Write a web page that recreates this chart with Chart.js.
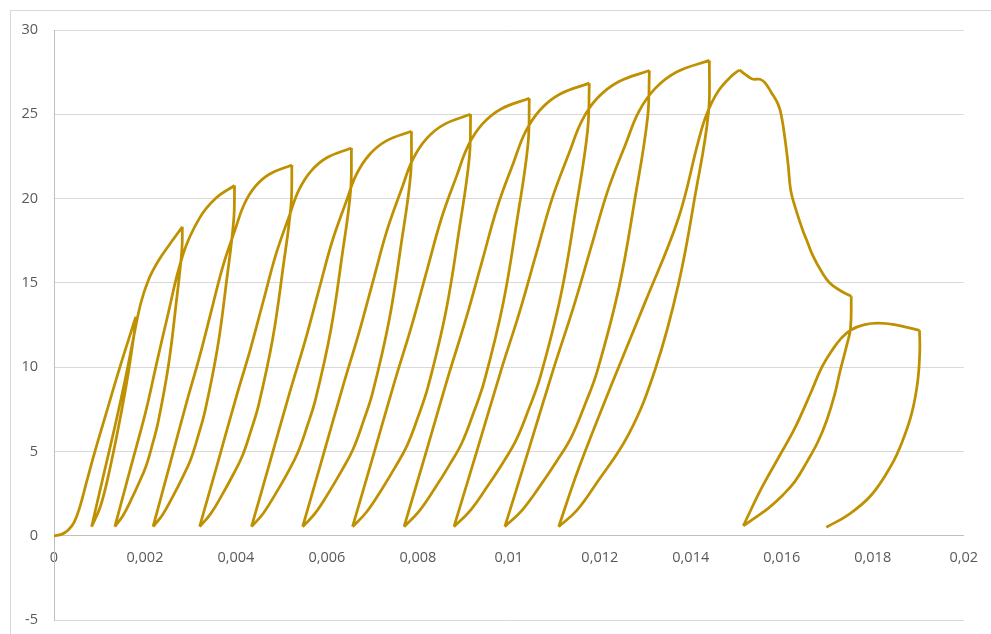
<!DOCTYPE html>
<html>
<head>
<meta charset="utf-8">
<script src="https://cdn.jsdelivr.net/npm/chart.js@4.4.1/dist/chart.umd.min.js"></script>
<style>
  html, body { margin: 0; padding: 0; background: #fff; overflow: hidden; }
  #wrap { position: relative; width: 991px; height: 634px; overflow: hidden; }
  #frame {
    position: absolute; left: 10px; top: 10px; width: 1200px; height: 900px;
    border: 1px solid #d9d9d9; pointer-events: none;
  }
</style>
</head>
<body>
<div id="wrap">
  <canvas id="loopChart" width="991" height="645"></canvas>
  <div id="frame"></div>
</div>
<script>
// === DATA (path in drawing order, null = sharp corner / break) ===
const strain = [
  // first loading
  0, 0.000175, 0.000307, 0.000439, 0.00057, 0.000724, 0.000899, 0.001173, 0.001447, 0.0018, null,
  // cycle 1
  0.0018, 0.00179, 0.001626, 0.001424, 0.001193, 0.00102, 0.000827, null,
  0.000827, 0.001086, 0.001349, 0.001579, 0.001754, 0.001908, 0.002083, 0.002303, 0.002544, 0.002822, null,
  // cycle 2
  0.002822, 0.00281, 0.002682, 0.002516, 0.00229, 0.002167, 0.002025, 0.001872, 0.001702, 0.001515, 0.001338, null,
  0.001338, 0.00168, 0.002022, 0.002245, 0.002471, 0.002836, 0.003202, 0.003568, 0.00397, null,
  // cycle 3
  0.00397, 0.00395, 0.003796, 0.003596, 0.003324, 0.003176, 0.003006, 0.002821, 0.002616, 0.002391, 0.002178, null,
  0.002178, 0.002544, 0.002907, 0.0032, 0.003466, 0.003713, 0.003979, 0.004177, 0.004421, 0.004742, 0.00523, null,
  // cycle 4
  0.00523, 0.00521, 0.005035, 0.004808, 0.004501, 0.004333, 0.00414, 0.003931, 0.003698, 0.003443, 0.003202, null,
  0.003202, 0.003603, 0.004, 0.00432, 0.004611, 0.004881, 0.005171, 0.005388, 0.005655, 0.006006, 0.00654, null,
  // cycle 5
  0.00654, 0.00652, 0.006331, 0.006084, 0.005751, 0.005568, 0.005359, 0.005133, 0.00488, 0.004603, 0.004342, null,
  0.004342, 0.004764, 0.005183, 0.005521, 0.005827, 0.006112, 0.006418, 0.006646, 0.006928, 0.007297, 0.00786, null,
  // cycle 6
  0.00786, 0.00784, 0.007634, 0.007365, 0.007002, 0.006803, 0.006575, 0.006328, 0.006053, 0.005752, 0.005467, null,
  0.005467, 0.00591, 0.00635, 0.006704, 0.007025, 0.007325, 0.007646, 0.007886, 0.008181, 0.008569, 0.00916, null,
  // cycle 7
  0.00916, 0.00913, 0.008907, 0.008617, 0.008224, 0.008009, 0.007762, 0.007495, 0.007198, 0.006872, 0.006564, null,
  0.006564, 0.00703, 0.007493, 0.007866, 0.008204, 0.008519, 0.008857, 0.009109, 0.00942, 0.009828, 0.01045, null,
  // cycle 8
  0.01045, 0.01042, 0.010183, 0.009875, 0.009459, 0.00923, 0.008969, 0.008685, 0.00837, 0.008024, 0.007697, null,
  0.007697, 0.008186, 0.00867, 0.009061, 0.009416, 0.009746, 0.0101, 0.010365, 0.010691, 0.011118, 0.01177, null,
  // cycle 9
  0.01177, 0.01173, 0.011475, 0.011143, 0.010694, 0.010447, 0.010165, 0.00986, 0.009519, 0.009146, 0.008794, null,
  0.008794, 0.00931, 0.009821, 0.010233, 0.010607, 0.010955, 0.011329, 0.011608, 0.011952, 0.012403, 0.01309, null,
  // cycle 10
  0.01309, 0.01305, 0.012777, 0.012422, 0.011942, 0.011679, 0.011377, 0.011051, 0.010687, 0.010289, 0.009912, null,
  0.009912, 0.010452, 0.010987, 0.011419, 0.01181, 0.012174, 0.012566, 0.012858, 0.013218, 0.01369, 0.01441, null,
  // cycle 11
  0.01441, 0.014386, 0.014101, 0.013728, 0.013224, 0.012632, 0.011908, 0.01149, 0.011096, null,
  0.011096, 0.011535, 0.012259, 0.013004, 0.013728, 0.014167, 0.014349, 0.014605, 0.014897, 0.015066, null,
  // softening branch
  0.015066, 0.0153, 0.015373, 0.01552, 0.015629, 0.015774, 0.015921, 0.015993, 0.016068, 0.01614,
  0.0162, 0.016322, 0.016469, 0.016542, 0.016689, 0.016871, 0.017055, 0.017309, 0.017529, null,
  // last cycle
  0.017529, 0.017511, 0.017423, 0.017281, 0.017164, 0.016996, 0.016798, 0.016557, 0.016287, 0.016009,
  0.015702, 0.015417, 0.015154, null,
  0.015154, 0.015555, 0.015921, 0.016287, 0.016651, 0.016871, 0.01709, 0.017309, 0.017529, 0.017822,
  0.018114, 0.01848, 0.019029, null,
  0.019029, 0.019035, 0.01899, 0.01886, 0.01865, 0.01841, 0.01797, 0.01746, 0.01698
];

const stress = [
  0, 0.11, 0.34, 0.79, 1.74, 3.28, 5.0, 7.5, 10.0, 13.0, null,
  13.0, 12.55, 9.55, 6.55, 3.55, 1.75, 0.55, null,
  0.55, 3.57, 6.61, 9.46, 11.84, 13.8, 15.22, 16.35, 17.3, 18.33, null,
  18.33, 16.9, 13.71, 10.11, 6.76, 5.46, 4.15, 3.17, 2.18, 1.2, 0.55, null,
  0.55, 3.99, 7.43, 10.1, 12.73, 16.69, 18.86, 20.05, 20.78, null,
  20.78, 18.7, 15.16, 11.17, 7.45, 6.0, 4.54, 3.45, 2.36, 1.28, 0.55, null,
  0.55, 4.2, 7.84, 10.63, 13.42, 15.99, 18.14, 19.64, 20.71, 21.46, 22.0, null,
  22.0, 19.6, 15.89, 11.69, 7.79, 6.27, 4.74, 3.6, 2.45, 1.31, 0.55, null,
  0.55, 4.37, 8.18, 11.1, 14.02, 16.71, 18.96, 20.53, 21.65, 22.44, 23.0, null,
  23.0, 20.45, 16.57, 12.19, 8.11, 6.52, 4.93, 3.73, 2.54, 1.35, 0.55, null,
  0.55, 4.54, 8.52, 11.57, 14.62, 17.43, 19.78, 21.42, 22.59, 23.41, 24.0, null,
  24.0, 21.4, 17.33, 12.75, 8.47, 6.81, 5.14, 3.89, 2.63, 1.38, 0.55, null,
  0.55, 4.71, 8.86, 12.04, 15.22, 18.15, 20.6, 22.31, 23.53, 24.39, 25.0, null,
  25.0, 22.4, 18.14, 13.33, 8.85, 7.1, 5.36, 4.05, 2.73, 1.42, 0.55, null,
  0.55, 4.87, 9.19, 12.49, 15.79, 18.84, 21.38, 23.16, 24.43, 25.32, 25.95, null,
  25.95, 23.2, 18.78, 13.8, 9.16, 7.35, 5.53, 4.17, 2.81, 1.46, 0.55, null,
  0.55, 5.02, 9.49, 12.91, 16.33, 19.49, 22.12, 23.96, 25.27, 26.19, 26.85, null,
  26.85, 24.0, 19.43, 14.27, 9.46, 7.59, 5.71, 4.3, 2.9, 1.49, 0.55, null,
  0.55, 5.15, 9.75, 13.26, 16.78, 20.03, 22.73, 24.63, 25.98, 26.92, 27.6, null,
  27.6, 24.8, 20.07, 14.74, 9.76, 7.83, 5.88, 4.43, 2.97, 1.52, 0.55, null,
  0.55, 5.25, 9.95, 13.55, 17.14, 20.46, 23.22, 25.16, 26.54, 27.51, 28.2, null,
  28.2, 25.02, 20.27, 14.92, 9.93, 6.02, 3.05, 1.5, 0.55, null,
  0.55, 4.0, 8.98, 13.91, 18.84, 23.41, 25.0, 26.38, 27.27, 27.63, null,
  27.63, 27.17, 27.08, 27.08, 26.88, 26.28, 25.59, 24.9, 23.61, 22.03,
  20.45, 19.26, 18.07, 17.58, 16.59, 15.69, 15.0, 14.51, 14.21, null,
  14.21, 12.31, 11.24, 9.76, 8.39, 6.91, 5.6, 4.41, 3.22, 2.39,
  1.64, 1.09, 0.6, null,
  0.6, 2.83, 4.61, 6.39, 8.57, 9.95, 10.94, 11.73, 12.23, 12.53,
  12.62, 12.53, 12.19, null,
  12.19, 11.0, 9.2, 7.3, 5.6, 4.2, 2.43, 1.25, 0.52
];

const xTickLabels = ['0', '0,002', '0,004', '0,006', '0,008', '0,01', '0,012', '0,014', '0,016', '0,018', '0,02'];
const yTickValues = [-5, 0, 5, 10, 15, 20, 25, 30];

// === CREATE CHART ===
const points = strain.map((x, i) => ({ x: x, y: stress[i] }));
const tickFont = { family: '"Open Sans", "Liberation Sans", sans-serif', size: 14.5 };

const ctx = document.getElementById('loopChart').getContext('2d');
const chart = new Chart(ctx, {
  type: 'scatter',
  data: {
    datasets: [{
      data: points,
      showLine: true,
      borderColor: '#BF9000',
      borderWidth: 2.75,
      pointRadius: 0,
      tension: 0.4,
      spanGaps: false
    }]
  },
  options: {
    responsive: false,
    animation: false,
    layout: { padding: { left: 10, right: 25, top: 30, bottom: 0 } },
    plugins: {
      legend: { display: false },
      tooltip: { enabled: false }
    },
    scales: {
      x: {
        type: 'linear',
        position: { y: 0 },
        min: 0,
        max: 0.02,
        grid: { display: false, drawTicks: false },
        border: { display: true, color: '#BFBFBF', width: 1 },
        ticks: {
          stepSize: 0.002,
          autoSkip: false,
          maxRotation: 0,
          padding: 13,
          color: '#595959',
          font: tickFont,
          callback: (v) => xTickLabels[Math.round(v / 0.002)]
        }
      },
      y: {
        min: yTickValues[0],
        max: yTickValues[yTickValues.length - 1],
        grid: { color: '#D9D9D9', lineWidth: 1, drawTicks: false },
        border: { display: true, color: '#BFBFBF', width: 1 },
        ticks: {
          stepSize: 5,
          padding: 16,
          color: '#595959',
          font: tickFont
        },
        afterFit: (scale) => { scale.width = 44; }
      }
    }
  }
});
</script>
</body>
</html>
